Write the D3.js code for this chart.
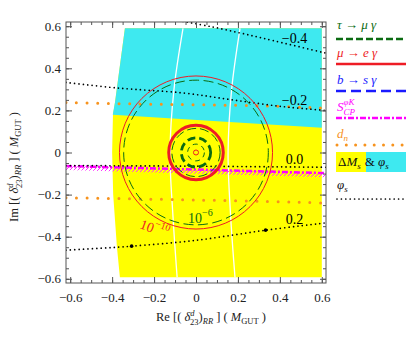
<!DOCTYPE html>
<html>
<head>
<meta charset="utf-8">
<script src="https://cdn.jsdelivr.net/npm/d3@7"></script>
<style>
  body { margin: 0; background: #fff; }
  svg text { font-family: "Liberation Serif", "DejaVu Serif", serif; }
</style>
</head>
<body>
<div id="chart"></div>
<script>
// ---- data (data units) ----
const tickValues = [-0.6, -0.4, -0.2, 0, 0.2, 0.4, 0.6];
const minorTicks = d3.range(-12, 13).map(i => i * 0.05);

// allowed regions
const deltaMsRegion = [[-0.339, 0.59], [-0.386, 0.24], [-0.396, 0.18], [-0.4, 0], [-0.395, -0.2],
  [-0.377, -0.45], [-0.363, -0.593], [0.6, -0.593], [0.6, 0.59]];
const phisRegion = [[-0.339, 0.59], [-0.386, 0.24], [-0.397, 0.179], [0.6, 0.117], [0.6, 0.59]];
// white gaps inside the coloured region
const deltaMsGaps = [
  [[-0.062, 0.59], [-0.105, 0.3], [-0.124, 0], [-0.11, -0.3], [-0.09, -0.593]],
  [[0.21, 0.59], [0.17, 0.3], [0.153, 0], [0.165, -0.3], [0.186, -0.593]]
];

// circles around the origin
const tauMuGammaRadii = [0.345, 0.115, 0.07, 0.04];
const muEGammaRadii = [0.365, 0.13, 0.012];

// phi_s contours
const phisLevels = ["\u22120.4", "\u22120.2", "0.0", "0.2"];
const phisCurves = [
  [[-0.062, 0.623], [0.067, 0.599], [0.21, 0.568], [0.337, 0.539], [0.62, 0.472]],
  [[-0.62, 0.333], [-0.38, 0.307], [-0.062, 0.283], [0.176, 0.25], [0.415, 0.218], [0.62, 0.2]],
  [[-0.62, -0.062], [0, -0.065], [0.62, -0.07]],
  [[-0.62, -0.464], [-0.458, -0.455], [-0.307, -0.445], [0, -0.417], [0.332, -0.369], [0.62, -0.334]]
];
const phisPoints = [[-0.307, -0.445], [0.332, -0.369]];

// d_n and S_CP lines
const dnCurves = [
  [[-0.62, 0.237], [-0.3, 0.231], [0.34, 0.221], [0.62, 0.21]],
  [[-0.62, -0.215], [0.02, -0.226], [0.58, -0.239], [0.62, -0.24]]
];
const sCPCurve = [[-0.62, -0.064], [0.62, -0.098]];

const width = 406, height = 343;
const x = d3.scaleLinear().domain([-0.62, 0.62]).range([66, 326]);
const y = d3.scaleLinear().domain([-0.62, 0.62]).range([283, 22]);

const svg = d3.select("#chart").append("svg")
  .attr("width", width).attr("height", height);

const defs = svg.append("defs");
defs.append("clipPath").attr("id", "plot")
  .append("rect").attr("x", 66).attr("y", 22).attr("width", 260).attr("height", 261);
const hatch = defs.append("pattern").attr("id", "hatch")
  .attr("width", 4).attr("height", 4).attr("patternUnits", "userSpaceOnUse");
hatch.append("path").attr("d", "M0,4L4,0").attr("stroke", "#ff33ff").attr("stroke-width", 1);

const line = d3.line().x(d => x(d[0])).y(d => y(d[1]));
const smooth = d3.line().x(d => x(d[0])).y(d => y(d[1])).curve(d3.curveCatmullRom);

const plot = svg.append("g").attr("clip-path", "url(#plot)");

// regions
plot.append("path").datum(deltaMsRegion).attr("d", d => line(d) + "Z").attr("fill", "#ffff00");
plot.append("path").datum(phisRegion).attr("d", d => line(d) + "Z").attr("fill", "#3ee9f0");
plot.selectAll(".gap").data(deltaMsGaps).enter().append("path")
  .attr("d", smooth).attr("fill", "none").attr("stroke", "#fff").attr("stroke-width", 1.3);

// d_n (orange dots)
plot.selectAll(".dn").data(dnCurves).enter().append("path")
  .attr("d", smooth).attr("fill", "none").attr("stroke", "#f7931e")
  .attr("stroke-width", 3).attr("stroke-linecap", "round").attr("stroke-dasharray", "0,10.6");

// S_CP band + dash-dot line
const band = d3.area().x(d => x(d[0])).y0(d => y(d[1])).y1(d => y(d[1]) + 4);
plot.append("path").datum(sCPCurve).attr("d", band).attr("fill", "url(#hatch)");
plot.append("path").datum(sCPCurve).attr("d", line).attr("fill", "none")
  .attr("stroke", "#ff00ff").attr("stroke-width", 2.5).attr("stroke-dasharray", "6,2,2,2");

// phi_s contours (black dots)
plot.selectAll(".phis").data(phisCurves).enter().append("path")
  .attr("d", smooth).attr("fill", "none").attr("stroke", "#000")
  .attr("stroke-width", 1.7).attr("stroke-linecap", "round").attr("stroke-dasharray", "0,4.4");
plot.selectAll(".phipt").data(phisPoints).enter().append("circle")
  .attr("cx", d => x(d[0])).attr("cy", d => y(d[1])).attr("r", 1.8).attr("fill", "#000");

// contour labels placed just above each curve
const labelX = 0.47;
function yAt(curve, xv) {
  for (let i = 1; i < curve.length; i++) {
    if (curve[i][0] >= xv) {
      const a = curve[i - 1], b = curve[i];
      return a[1] + (b[1] - a[1]) * (xv - a[0]) / (b[0] - a[0]);
    }
  }
  return curve[curve.length - 1][1];
}
plot.selectAll(".plab").data(phisLevels).enter().append("text")
  .attr("x", x(labelX)).attr("y", (d, i) => y(yAt(phisCurves[i], labelX)) - 3)
  .attr("text-anchor", "middle").attr("font-size", 14).text(d => d);

// tau -> mu gamma circles (green dashed)
const greenStyle = [[1, "10,4.5"], [1, "9,4"], [2.8, "8,4"], [1, "5,4"]];
plot.selectAll(".tmg").data(tauMuGammaRadii).enter().append("circle")
  .attr("cx", x(0)).attr("cy", y(0)).attr("r", d => x(d) - x(0))
  .attr("fill", "none").attr("stroke", "#0b6b12")
  .attr("stroke-width", (d, i) => greenStyle[i][0])
  .attr("stroke-dasharray", (d, i) => greenStyle[i][1]);

// mu -> e gamma circles (red)
const redWidth = [1, 3, 1];
plot.selectAll(".meg").data(muEGammaRadii).enter().append("circle")
  .attr("cx", x(0)).attr("cy", y(0)).attr("r", d => x(d) - x(0))
  .attr("fill", "none").attr("stroke", "#ee1c25")
  .attr("stroke-width", (d, i) => redWidth[i]);

// circle labels
const l6 = plot.append("text").attr("x", 188).attr("y", 223).attr("font-size", 14).attr("fill", "#0b6b12");
l6.append("tspan").text("10");
l6.append("tspan").attr("font-size", 10).attr("dy", -7).text("\u22126");
const l10 = plot.append("text").attr("transform", "translate(139,228) rotate(20)")
  .attr("font-size", 14).attr("fill", "#ee1c25");
l10.append("tspan").text("10");
l10.append("tspan").attr("font-size", 10).attr("dy", -7).text("\u221210");

// ---- axes / frame ----
const fmt = d => d === 0 ? "0" : d3.format(".1f")(d);
const frame = "#555";
function axis(gen, tr, vals, size, labels, pad) {
  const g = svg.append("g").attr("transform", tr)
    .call(gen.tickValues(vals).tickSize(size).tickPadding(pad || 3).tickFormat(labels ? fmt : ""));
  g.select(".domain").remove();
  g.selectAll("line").attr("stroke", frame);
  g.selectAll("text").attr("font-family", "Liberation Serif").attr("font-size", 13).attr("fill", "#222");
  return g;
}
axis(d3.axisBottom(x), "translate(0,283)", minorTicks, -3, false);
axis(d3.axisBottom(x), "translate(0,283)", tickValues, -6, true, 10);
axis(d3.axisTop(x), "translate(0,22)", minorTicks, -3, false);
axis(d3.axisTop(x), "translate(0,22)", tickValues, -6, false);
axis(d3.axisLeft(y), "translate(66,0)", minorTicks, -3, false);
axis(d3.axisLeft(y), "translate(66,0)", tickValues, -6, true, 5);
axis(d3.axisRight(y), "translate(326,0)", minorTicks, -3, false);
axis(d3.axisRight(y), "translate(326,0)", tickValues, -6, false);
svg.append("rect").attr("x", 66).attr("y", 22).attr("width", 260).attr("height", 261)
  .attr("fill", "none").attr("stroke", frame).attr("stroke-width", 1);

// axis titles
function title(t, prefix) {
  const s = 12.5, ss = 8.5;
  t.append("tspan").text(prefix + " [( ");
  t.append("tspan").attr("font-style", "italic").text("\u03b4");
  t.append("tspan").attr("font-size", ss).attr("font-style", "italic").attr("dy", -5).text("d");
  t.append("tspan").attr("font-size", ss).attr("dx", -4.5).attr("dy", 9).text("23");
  t.append("tspan").attr("dy", -4).text(")");
  t.append("tspan").attr("font-size", ss).attr("font-style", "italic").attr("dy", 3).text("RR");
  t.append("tspan").attr("dy", -3).text(" ] ( ");
  t.append("tspan").attr("font-style", "italic").text("M");
  t.append("tspan").attr("font-size", ss).attr("dy", 3).text("GUT");
  t.append("tspan").attr("dy", -3).text(" )");
  t.attr("font-size", s).attr("fill", "#222");
}
title(svg.append("text").attr("x", 211).attr("y", 321).attr("text-anchor", "middle"), "Re");
title(svg.append("text").attr("transform", "translate(18,167) rotate(-90)").attr("text-anchor", "middle"), "Im");

// ---- legend ----
const lg = svg.append("g");
const lx0 = 336, lx1 = 410;
function ltext(yb, color) {
  return lg.append("text").attr("x", 337).attr("y", yb).attr("font-size", 13)
    .attr("font-style", "italic").attr("fill", color);
}
let t = ltext(29, "#0b6b12"); t.text("\u03c4 \u2192 \u03bc \u03b3");
lg.append("line").attr("x1", lx0).attr("x2", lx1).attr("y1", 39).attr("y2", 39)
  .attr("stroke", "#0b6b12").attr("stroke-width", 2.6).attr("stroke-dasharray", "7,3");
t = ltext(57, "#ee1c25"); t.text("\u03bc \u2192 e \u03b3");
lg.append("line").attr("x1", lx0).attr("x2", lx1).attr("y1", 64).attr("y2", 64)
  .attr("stroke", "#ee1c25").attr("stroke-width", 2.6);
t = ltext(84, "#1a1aff"); t.text("b \u2192 s \u03b3");
lg.append("line").attr("x1", lx0).attr("x2", lx1).attr("y1", 91).attr("y2", 91)
  .attr("stroke", "#1a1aff").attr("stroke-width", 2.6).attr("stroke-dasharray", "10,5");
t = ltext(111, "#ff00ff");
t.append("tspan").text("S");
t.append("tspan").attr("font-size", 9).attr("dy", -6).text("\u03c6K");
t.append("tspan").attr("font-size", 9).attr("dx", -11).attr("dy", 10).text("CP");
lg.append("line").attr("x1", lx0).attr("x2", lx1).attr("y1", 118).attr("y2", 118)
  .attr("stroke", "#ff00ff").attr("stroke-width", 2.6).attr("stroke-dasharray", "6,2,2,2");
t = ltext(138, "#f7931e");
t.append("tspan").text("d");
t.append("tspan").attr("font-size", 9).attr("dy", 3).text("n");
lg.append("line").attr("x1", lx0 + 1).attr("x2", lx1).attr("y1", 145).attr("y2", 145)
  .attr("stroke", "#f7931e").attr("stroke-width", 3).attr("stroke-linecap", "round").attr("stroke-dasharray", "0,9.3");
lg.append("rect").attr("x", 336).attr("y", 152).attr("width", 30).attr("height", 20).attr("fill", "#ffff00");
lg.append("rect").attr("x", 366).attr("y", 152).attr("width", 44).attr("height", 20).attr("fill", "#3ee9f0");
t = lg.append("text").attr("x", 338).attr("y", 166).attr("font-size", 13).attr("fill", "#111");
t.append("tspan").text("\u0394");
t.append("tspan").attr("font-style", "italic").text("M");
t.append("tspan").attr("font-size", 9).attr("font-style", "italic").attr("dy", 3).text("s");
t.append("tspan").attr("dy", -3).attr("dx", 4).text("& ");
t.append("tspan").attr("font-style", "italic").text("\u03c6");
t.append("tspan").attr("font-size", 9).attr("font-style", "italic").attr("dy", 3).text("s");
t = ltext(189, "#111");
t.append("tspan").text("\u03c6");
t.append("tspan").attr("font-size", 9).attr("dy", 3).text("s");
lg.append("line").attr("x1", lx0 + 1).attr("x2", lx1).attr("y1", 199).attr("y2", 199)
  .attr("stroke", "#000").attr("stroke-width", 1.7).attr("stroke-linecap", "round").attr("stroke-dasharray", "0,4.4");
</script>
</body>
</html>
